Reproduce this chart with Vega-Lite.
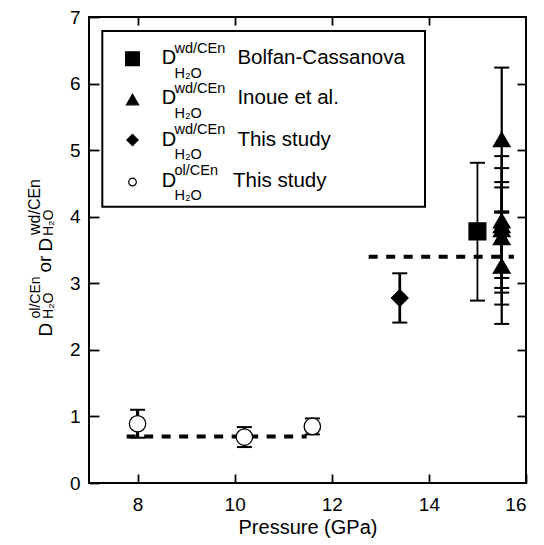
{
  "$schema": "https://vega.github.io/schema/vega-lite/v6.json",
  "width": 437,
  "height": 466,
  "autosize": {"type": "none"},
  "padding": {"left": 89, "top": 17, "right": 18, "bottom": 62},
  "background": "white",
  "config": {
    "font": "Liberation Sans",
    "view": {"stroke": "black", "strokeWidth": 2},
    "axis": {"domain": false, "grid": false, "labelFont": "Liberation Sans", "labelFontSize": 19, "labelColor": "black", "tickColor": "black", "tickWidth": 1.8, "titleFont": "Liberation Sans", "titleFontSize": 20, "titleFontWeight": "normal", "titleColor": "black"},
    "text": {"color": "black"}
  },
  "datasets": {
    "pts": [
      {"series": "ol", "P": 8.0, "D": 0.89, "lo": 0.68, "hi": 1.10},
      {"series": "ol", "P": 10.2, "D": 0.69, "lo": 0.54, "hi": 0.84},
      {"series": "ol", "P": 11.6, "D": 0.85, "lo": 0.73, "hi": 0.97},
      {"series": "wd", "P": 13.4, "D": 2.78, "lo": 2.41, "hi": 3.15},
      {"series": "bc", "P": 15.0, "D": 3.78, "lo": 2.74, "hi": 4.81},
      {"series": "inoue", "P": 15.5, "D": 5.16, "lo": 4.06, "hi": 6.24},
      {"series": "inoue", "P": 15.5, "D": 3.94, "lo": 2.93, "hi": 4.91},
      {"series": "inoue", "P": 15.5, "D": 3.87, "lo": 3.08, "hi": 4.73},
      {"series": "inoue", "P": 15.5, "D": 3.81, "lo": 2.86, "hi": 4.52},
      {"series": "inoue", "P": 15.5, "D": 3.69, "lo": 2.68, "hi": 4.44},
      {"series": "inoue", "P": 15.5, "D": 3.26, "lo": 2.39, "hi": 4.08}
    ],
    "fits": [
      {"x1": 7.776, "x2": 11.483, "y": 0.70},
      {"x1": 12.76, "x2": 15.75, "y": 3.40}
    ],
    "one": [{}]
  },
  "layer": [
    {
      "data": {"name": "fits"},
      "mark": {"type": "rule", "color": "black", "strokeWidth": 4, "strokeDash": [9, 8.5]},
      "encoding": {
        "x": {"field": "x1", "type": "quantitative", "scale": {"domain": [7, 16], "nice": false, "zero": false},
              "axis": {"orient": "bottom", "values": [8, 10, 12, 14, 16], "format": "d", "title": "Pressure (GPa)", "tickSize": -9, "labelPadding": 21, "titleY": 50, "titleBaseline": "alphabetic"}},
        "x2": {"field": "x2"},
        "y": {"field": "y", "type": "quantitative", "scale": {"domain": [0, 7], "nice": false, "zero": false},
              "axis": {"orient": "left", "values": [0, 1, 2, 3, 4, 5, 6, 7], "format": "d", "title": null, "tickSize": -10, "labelPadding": 19}}
      }
    },
    {
      "data": {"name": "pts"},
      "mark": {"type": "rule", "color": "black"},
      "encoding": {
        "x": {"field": "P", "type": "quantitative", "axis": null},
        "y": {"field": "lo", "type": "quantitative", "axis": null},
        "y2": {"field": "hi"},
        "strokeWidth": {"field": "series", "type": "nominal", "scale": {"domain": ["bc", "inoue", "wd", "ol"], "range": [1.8, 3.2, 2.2, 1.8]}, "legend": null}
      }
    },
    {
      "data": {"name": "pts"},
      "mark": {"type": "tick", "orient": "horizontal", "size": 15, "thickness": 2, "color": "black", "opacity": 1},
      "encoding": {
        "x": {"field": "P", "type": "quantitative", "axis": null},
        "y": {"field": "lo", "type": "quantitative", "axis": null}
      }
    },
    {
      "data": {"name": "pts"},
      "mark": {"type": "tick", "orient": "horizontal", "size": 15, "thickness": 2, "color": "black", "opacity": 1},
      "encoding": {
        "x": {"field": "P", "type": "quantitative", "axis": null},
        "y": {"field": "hi", "type": "quantitative", "axis": null}
      }
    },
    {
      "data": {"name": "pts"},
      "mark": {"type": "point", "filled": true, "stroke": "black", "strokeWidth": 1.3, "opacity": 1},
      "encoding": {
        "x": {"field": "P", "type": "quantitative", "axis": null},
        "y": {"field": "D", "type": "quantitative", "axis": null},
        "shape": {"field": "series", "type": "nominal", "scale": {"domain": ["bc", "inoue", "wd", "ol"], "range": ["square", "triangle-up", "diamond", "circle"]}, "legend": null},
        "fill": {"field": "series", "type": "nominal", "scale": {"domain": ["bc", "inoue", "wd", "ol"], "range": ["black", "black", "black", "white"]}, "legend": null},
        "size": {"field": "series", "type": "nominal", "scale": {"domain": ["bc", "inoue", "wd", "ol"], "range": [282, 270, 250, 189]}, "legend": null}
      }
    },
    {
      "data": {"name": "one"},
      "mark": {"type": "rect", "fill": "white", "stroke": "black", "strokeWidth": 2},
      "encoding": {
        "x": {"datum": 7.274, "type": "quantitative", "axis": {"orient": "top", "values": [8, 10, 12, 14], "labels": false, "tickSize": -8, "title": null}},
        "x2": {"datum": 13.92},
        "y": {"datum": 6.79, "type": "quantitative", "axis": {"orient": "right", "values": [1, 2, 3, 4, 5, 6], "labels": false, "tickSize": -9, "title": null}},
        "y2": {"datum": 4.15}
      }
    },
    {"data": {"name": "one"}, "mark": {"type": "text", "text": "D", "angle": 270, "align": "left", "baseline": "alphabetic", "fontSize": 19},
     "encoding": {"x": {"datum": 6.232, "type": "quantitative", "axis": null}, "y": {"datum": 2.201, "type": "quantitative", "axis": null}}},
    {"data": {"name": "one"}, "mark": {"type": "text", "text": "ol/CEn", "angle": 270, "align": "left", "baseline": "alphabetic", "fontSize": 14, "dy": -11.7},
     "encoding": {"x": {"datum": 6.232, "type": "quantitative", "axis": null}, "y": {"datum": 2.471, "type": "quantitative", "axis": null}}},
    {"data": {"name": "one"}, "mark": {"type": "text", "text": "H₂O", "angle": 270, "align": "left", "baseline": "alphabetic", "fontSize": 14, "dy": 1.7},
     "encoding": {"x": {"datum": 6.232, "type": "quantitative", "axis": null}, "y": {"datum": 2.464, "type": "quantitative", "axis": null}}},
    {"data": {"name": "one"}, "mark": {"type": "text", "text": "or", "angle": 270, "align": "left", "baseline": "alphabetic", "fontSize": 19, "dy": -1},
     "encoding": {"x": {"datum": 6.232, "type": "quantitative", "axis": null}, "y": {"datum": 3.162, "type": "quantitative", "axis": null}}},
    {"data": {"name": "one"}, "mark": {"type": "text", "text": "D", "angle": 270, "align": "left", "baseline": "alphabetic", "fontSize": 19},
     "encoding": {"x": {"datum": 6.232, "type": "quantitative", "axis": null}, "y": {"datum": 3.478, "type": "quantitative", "axis": null}}},
    {"data": {"name": "one"}, "mark": {"type": "text", "text": "wd/CEn", "angle": 270, "align": "left", "baseline": "alphabetic", "fontSize": 16, "dy": -11.7},
     "encoding": {"x": {"datum": 6.232, "type": "quantitative", "axis": null}, "y": {"datum": 3.725, "type": "quantitative", "axis": null}}},
    {"data": {"name": "one"}, "mark": {"type": "text", "text": "H₂O", "angle": 270, "align": "left", "baseline": "alphabetic", "fontSize": 14, "dy": 1.7},
     "encoding": {"x": {"datum": 6.232, "type": "quantitative", "axis": null}, "y": {"datum": 3.71, "type": "quantitative", "axis": null}}},

    {"data": {"name": "one"}, "mark": {"type": "point", "shape": "square", "size": 190, "filled": true, "fill": "black", "stroke": "black", "strokeWidth": 1.2, "opacity": 1},
     "encoding": {"x": {"datum": 7.896, "type": "quantitative", "axis": null}, "y": {"datum": 6.372, "type": "quantitative", "axis": null}}},
    {"data": {"name": "one"}, "mark": {"type": "point", "shape": "triangle-up", "size": 150, "filled": true, "fill": "black", "stroke": "black", "strokeWidth": 1.2, "opacity": 1},
     "encoding": {"x": {"datum": 7.896, "type": "quantitative", "axis": null}, "y": {"datum": 5.761, "type": "quantitative", "axis": null}}},
    {"data": {"name": "one"}, "mark": {"type": "point", "shape": "diamond", "size": 125, "filled": true, "fill": "black", "stroke": "black", "strokeWidth": 1.2, "opacity": 1},
     "encoding": {"x": {"datum": 7.896, "type": "quantitative", "axis": null}, "y": {"datum": 5.152, "type": "quantitative", "axis": null}}},
    {"data": {"name": "one"}, "mark": {"type": "point", "shape": "circle", "size": 59, "filled": true, "fill": "white", "stroke": "black", "strokeWidth": 1.2, "opacity": 1},
     "encoding": {"x": {"datum": 7.896, "type": "quantitative", "axis": null}, "y": {"datum": 4.521, "type": "quantitative", "axis": null}}},

    {"data": {"name": "one"}, "mark": {"type": "text", "text": "D", "align": "left", "baseline": "alphabetic", "fontSize": 20},
     "encoding": {"x": {"datum": 8.497, "type": "quantitative", "axis": null}, "y": {"datum": 6.29, "type": "quantitative", "axis": null}}},
    {"data": {"name": "one"}, "mark": {"type": "text", "text": "D", "align": "left", "baseline": "alphabetic", "fontSize": 20},
     "encoding": {"x": {"datum": 8.497, "type": "quantitative", "axis": null}, "y": {"datum": 5.689, "type": "quantitative", "axis": null}}},
    {"data": {"name": "one"}, "mark": {"type": "text", "text": "D", "align": "left", "baseline": "alphabetic", "fontSize": 20},
     "encoding": {"x": {"datum": 8.497, "type": "quantitative", "axis": null}, "y": {"datum": 5.067, "type": "quantitative", "axis": null}}},
    {"data": {"name": "one"}, "mark": {"type": "text", "text": "D", "align": "left", "baseline": "alphabetic", "fontSize": 20},
     "encoding": {"x": {"datum": 8.497, "type": "quantitative", "axis": null}, "y": {"datum": 4.451, "type": "quantitative", "axis": null}}},

    {"data": {"name": "one"}, "mark": {"type": "text", "text": "wd/CEn", "align": "left", "baseline": "alphabetic", "fontSize": 14.5, "dy": -11.5},
     "encoding": {"x": {"datum": 8.761, "type": "quantitative", "axis": null}, "y": {"datum": 6.29, "type": "quantitative", "axis": null}}},
    {"data": {"name": "one"}, "mark": {"type": "text", "text": "wd/CEn", "align": "left", "baseline": "alphabetic", "fontSize": 14.5, "dy": -11.5},
     "encoding": {"x": {"datum": 8.761, "type": "quantitative", "axis": null}, "y": {"datum": 5.689, "type": "quantitative", "axis": null}}},
    {"data": {"name": "one"}, "mark": {"type": "text", "text": "wd/CEn", "align": "left", "baseline": "alphabetic", "fontSize": 14.5, "dy": -11.5},
     "encoding": {"x": {"datum": 8.761, "type": "quantitative", "axis": null}, "y": {"datum": 5.067, "type": "quantitative", "axis": null}}},
    {"data": {"name": "one"}, "mark": {"type": "text", "text": "ol/CEn", "align": "left", "baseline": "alphabetic", "fontSize": 14.5, "dy": -11.5},
     "encoding": {"x": {"datum": 8.761, "type": "quantitative", "axis": null}, "y": {"datum": 4.451, "type": "quantitative", "axis": null}}},

    {"data": {"name": "one"}, "mark": {"type": "text", "text": "H₂O", "align": "left", "baseline": "alphabetic", "fontSize": 14.5, "dy": 13.5},
     "encoding": {"x": {"datum": 8.761, "type": "quantitative", "axis": null}, "y": {"datum": 6.29, "type": "quantitative", "axis": null}}},
    {"data": {"name": "one"}, "mark": {"type": "text", "text": "H₂O", "align": "left", "baseline": "alphabetic", "fontSize": 14.5, "dy": 13.5},
     "encoding": {"x": {"datum": 8.761, "type": "quantitative", "axis": null}, "y": {"datum": 5.689, "type": "quantitative", "axis": null}}},
    {"data": {"name": "one"}, "mark": {"type": "text", "text": "H₂O", "align": "left", "baseline": "alphabetic", "fontSize": 14.5, "dy": 13.5},
     "encoding": {"x": {"datum": 8.761, "type": "quantitative", "axis": null}, "y": {"datum": 5.067, "type": "quantitative", "axis": null}}},
    {"data": {"name": "one"}, "mark": {"type": "text", "text": "H₂O", "align": "left", "baseline": "alphabetic", "fontSize": 14.5, "dy": 13.5},
     "encoding": {"x": {"datum": 8.761, "type": "quantitative", "axis": null}, "y": {"datum": 4.451, "type": "quantitative", "axis": null}}},

    {"data": {"name": "one"}, "mark": {"type": "text", "text": "Bolfan-Cassanova", "align": "left", "baseline": "alphabetic", "fontSize": 20.5},
     "encoding": {"x": {"datum": 10.056, "type": "quantitative", "axis": null}, "y": {"datum": 6.29, "type": "quantitative", "axis": null}}},
    {"data": {"name": "one"}, "mark": {"type": "text", "text": "Inoue et al.", "align": "left", "baseline": "alphabetic", "fontSize": 20.5},
     "encoding": {"x": {"datum": 10.056, "type": "quantitative", "axis": null}, "y": {"datum": 5.689, "type": "quantitative", "axis": null}}},
    {"data": {"name": "one"}, "mark": {"type": "text", "text": "This study", "align": "left", "baseline": "alphabetic", "fontSize": 20.5},
     "encoding": {"x": {"datum": 10.056, "type": "quantitative", "axis": null}, "y": {"datum": 5.067, "type": "quantitative", "axis": null}}},
    {"data": {"name": "one"}, "mark": {"type": "text", "text": "This study", "align": "left", "baseline": "alphabetic", "fontSize": 20.5},
     "encoding": {"x": {"datum": 9.966, "type": "quantitative", "axis": null}, "y": {"datum": 4.451, "type": "quantitative", "axis": null}}}
  ],
  "resolve": {
    "axis": {"x": "independent", "y": "independent"}
  }
}
